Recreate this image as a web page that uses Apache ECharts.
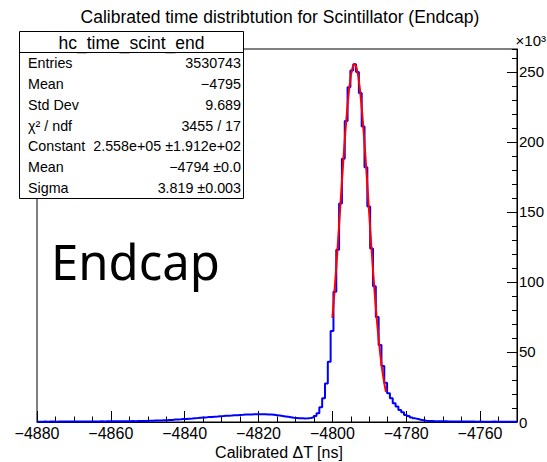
<!DOCTYPE html>
<html>
<head>
<meta charset="utf-8">
<script src="https://cdn.jsdelivr.net/npm/echarts@6/dist/echarts.min.js"></script>
<style>
html,body{margin:0;padding:0;background:#fff;}
#c{width:547px;height:462px;}
</style>
</head>
<body>
<div id="c"></div>
<script>
// ---- data ----
const xMin = -4880, xMax = -4750, nBins = 170;
// bin contents in units of 10^3 entries
const counts = [
0.2,0.2,0.3,0.2,0.3,0.3,0.2,0.3,0.3,0.3,
0.3,0.3,0.4,0.3,0.4,0.4,0.4,0.3,0.4,0.4,
0.4,0.4,0.5,0.4,0.5,0.5,0.5,0.5,0.5,0.6,
0.6,0.6,0.6,0.7,0.6,0.7,0.7,0.8,0.8,
0.9,0.9,1.0,1.1,1.1,1.2,1.3,1.4,1.5,1.7,1.8,1.9,2.1,2.2,
2.4,2.5,2.7,2.8,3.0,3.2,3.3,3.5,3.6,3.8,3.9,4.1,4.2,
4.4,4.5,4.6,4.8,4.9,5.0,5.1,5.3,5.4,5.4,5.5,5.6,5.6,
5.6,5.5,5.4,5.3,5.1,4.9,4.6,4.3,4.0,3.7,3.4,3.1,2.9,
2.7,2.6,2.5,2.6,2.8,3.3,4.2,6.2,10.5,17,27.5,43,65,93,
123,156,188,215,239,251,255.5,250,235,211,182,154,124,
97,75,55,40,28,20.5,17,13.4,11,8.6,6.9,5.0,4.2,3.3,2.6,2.1,1.6,1.2,0.9,
0.8,0.7,0.6,0.6,0.5,0.5,0.5,0.4,0.4,0.4,0.4,0.3,0.3,0.3,0.3,0.3,0.3,0.2,0.3,0.2,
0.2,0.2,0.2,0.3,0.2,0.2,0.2,0.2,0.2,0.2,0.2,0.2
];
// gaussian fit curve samples (10^3)
const fitX = [-4800,-4799.5,-4799,-4798.5,-4798,-4797.5,-4797,-4796.5,-4796,-4795.5,-4795,-4794.5,-4794,-4793.5,-4793,-4792.5,-4792,-4791.5,-4791,-4790.5,-4790,-4789.5,-4789,-4788.5,-4788,-4787.5,-4787,-4786.5,-4786,-4785.5];
const fitY = [74.4,90.7,108.6,127.8,147.8,168.1,187.9,206.5,223.0,236.8,247.2,253.6,255.8,253.6,247.2,236.8,223.0,206.5,187.9,168.1,147.8,127.8,108.6,90.7,74.4,60.1,47.7,37.2,28.5,21.5];
const yMax = 266.4;
const xTicksMajor = 20, xTicksMinor = 5, yTicksMajor = 50, yTicksMinor = 10;

const titleText = 'Calibrated time distribtution for Scintillator (Endcap)';
const xTitle = 'Calibrated \u0394T [ns]';
const statName = 'hc_time_scint_end';
const statLabels = ['Entries','Mean','Std Dev','\u03C7\u00B2 / ndf','Constant','Mean','Sigma'];
const statValues = ['3530743','\u22124795','9.689','3455 / 17','2.558e+05 \u00B11.912e+02','\u22124794 \u00B10.0','3.819 \u00B10.003'];
const bigLabel = 'Endcap';
const yExp = '\u00D710\u00B3';

// ---- build ----
const w = (xMax - xMin) / nBins;
const histData = [];
for (let i = 0; i <= nBins; i++) {
  histData.push([xMin + i * w, counts[Math.min(i, nBins - 1)]]);
}
const fitData = fitX.map((x, i) => [x, fitY[i]]);

const font = '"Liberation Sans", Arial, sans-serif';
const chart = echarts.init(document.getElementById('c'), null, {renderer: 'svg', width: 547, height: 462});

const gl = 37, gr = 521, gt = 49, gb = 422;
const statTop = 31.5, statLeft = 19.5, statRight = 243.5, statBottom = 198.5, headSep = 52.5;
const rowH = (statBottom - headSep) / statLabels.length;
const graphics = [
  {type:'text', z: 100, style:{text: titleText, x: 280, y: 17, textAlign:'center', textVerticalAlign:'middle', font: '17.5px ' + font, fill:'#000'}},
  {type:'text', z: 100, style:{text: xTitle, x: 279, y: 452, textAlign:'center', textVerticalAlign:'middle', font: '16px ' + font, fill:'#000'}},
  {type:'text', z: 100, style:{text: yExp, x: 546, y: 40, textAlign:'right', textVerticalAlign:'middle', font: '15px ' + font, fill:'#000'}},
  {type:'text', z: 100, style:{text: bigLabel, x: 51, y: 261, textAlign:'left', textVerticalAlign:'middle', font: '49px "Noto Sans", sans-serif', fill:'#000'}},
  {type:'rect', z: 90, shape:{x: statLeft, y: statTop, width: statRight - statLeft, height: statBottom - statTop}, style:{fill:'#fff', stroke:'#000', lineWidth:1}},
  {type:'line', z: 91, shape:{x1: statLeft, y1: headSep, x2: statRight, y2: headSep}, style:{stroke:'#000', lineWidth:1}},
  {type:'text', z: 92, style:{text: statName, x: (statLeft + statRight) / 2, y: (statTop + headSep) / 2 + 0.5, textAlign:'center', textVerticalAlign:'middle', font: '17.5px ' + font, fill:'#000'}}
];
statLabels.forEach((lab, k) => {
  const yy = headSep + rowH * (k + 0.5);
  graphics.push({type:'text', z: 92, style:{text: lab, x: 28, y: yy, textAlign:'left', textVerticalAlign:'middle', font: '14.3px ' + font, fill:'#000'}});
  graphics.push({type:'text', z: 92, style:{text: statValues[k], x: 241, y: yy, textAlign:'right', textVerticalAlign:'middle', font: '14.3px ' + font, fill:'#000'}});
});

const option = {
  animation: false,
  backgroundColor: '#fff',
  grid: {left: gl, right: 547 - gr, top: gt, bottom: 462 - gb, show: true, borderColor: '#000', borderWidth: 1, backgroundColor: 'transparent'},
  xAxis: [
    {type:'value', min: xMin, max: xMax, interval: xTicksMajor, position:'bottom',
     axisLine:{show:true, onZero:false, lineStyle:{color:'#000', width:1}},
     axisTick:{show:true, inside:true, length:11, lineStyle:{color:'#000', width:1}},
     axisLabel:{show:true, margin:3, fontSize:16, fontFamily: font, color:'#000', showMaxLabel:false,
       formatter: v => String(v).replace('-', '\u2212')},
     splitLine:{show:false}},
    {type:'value', min: xMin, max: xMax, interval: xTicksMinor, position:'bottom',
     axisLine:{show:false},
     axisTick:{show:true, inside:true, length:5.5, lineStyle:{color:'#000', width:1}},
     axisLabel:{show:false}, splitLine:{show:false}}
  ],
  yAxis: [
    {type:'value', min: 0, max: yMax, interval: yTicksMajor, position:'right',
     axisLine:{show:true, onZero:false, lineStyle:{color:'#000', width:1}},
     axisTick:{show:true, inside:true, length:10, lineStyle:{color:'#000', width:1}},
     axisLabel:{show:true, margin:2, fontSize:15, fontFamily: font, color:'#000', showMaxLabel:false},
     splitLine:{show:false}},
    {type:'value', min: 0, max: yMax, interval: yTicksMinor, position:'right',
     axisLine:{show:false},
     axisTick:{show:true, inside:true, length:5, lineStyle:{color:'#000', width:1}},
     axisLabel:{show:false}, splitLine:{show:false}}
  ],
  series: [
    {type:'line', name:'hist', data: histData, step:'end', symbol:'none', xAxisIndex:0, yAxisIndex:0,
     lineStyle:{color:'#0000ff', width:2}, z: 3},
    {type:'line', name:'fit', data: fitData, symbol:'none', xAxisIndex:0, yAxisIndex:0,
     lineStyle:{color:'#ff0000', width:2}, z: 4}
  ],
  graphic: graphics
};
chart.setOption(option);
</script>
</body>
</html>
